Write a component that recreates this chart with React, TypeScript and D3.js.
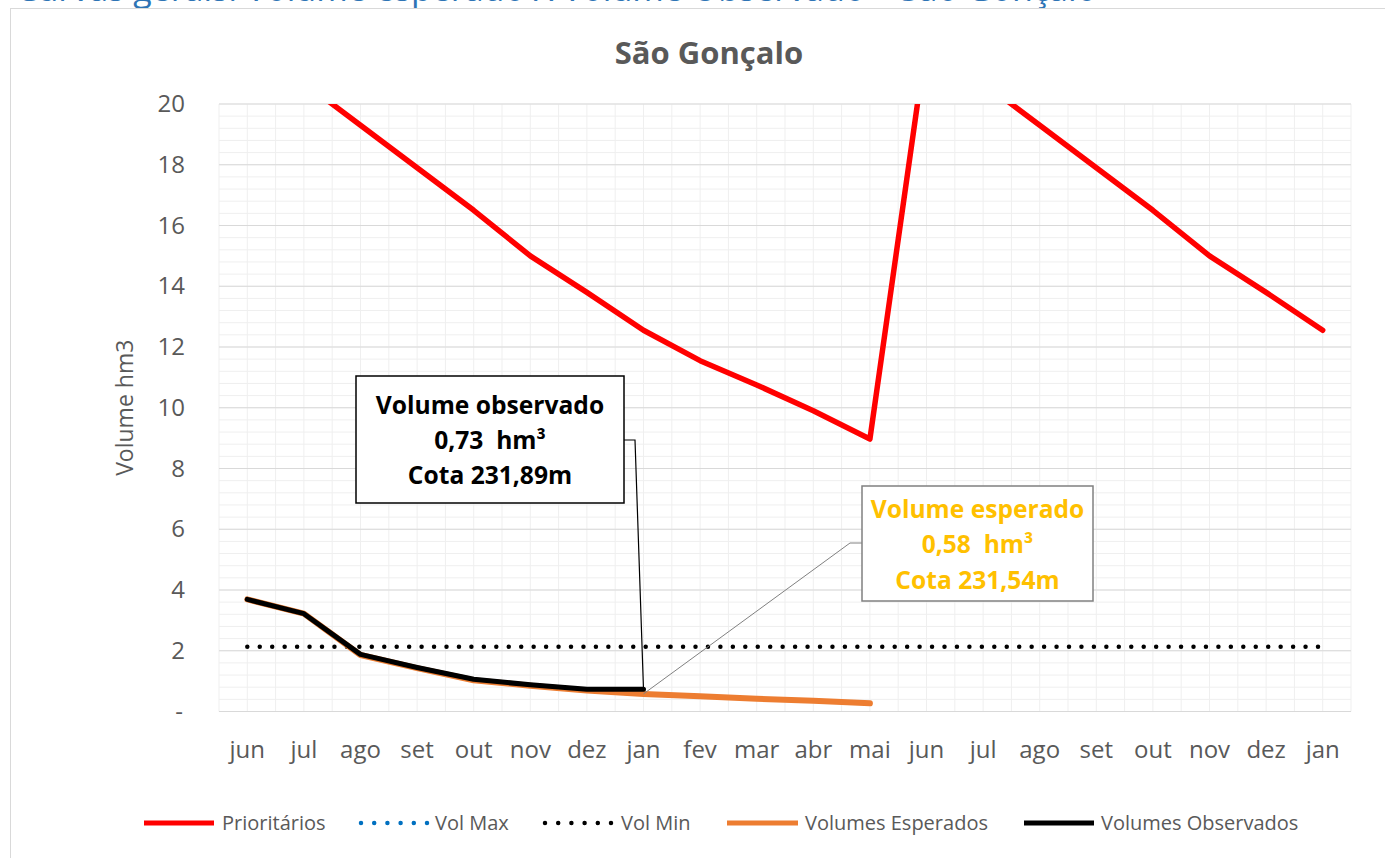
import React from "react";
import * as d3 from "d3";

const months = ["jun","jul","ago","set","out","nov","dez","jan","fev","mar","abr","mai","jun","jul","ago","set","out","nov","dez","jan"];
const prioritarios = [22.1, 20.7, 19.3, 17.9, 16.5, 15.0, 13.8, 12.55, 11.55, 10.75, 9.9, 8.97, 22.1, 20.7, 19.3, 17.9, 16.5, 15.0, 13.8, 12.55];
const volMax = months.map(() => 44.6);
const volMin = months.map(() => 2.13);
const esperados = [3.69, 3.22, 1.86, 1.43, 1.03, 0.85, 0.69, 0.58, 0.5, 0.42, 0.35, 0.27];
const observados = [3.69, 3.22, 1.88, 1.45, 1.06, 0.88, 0.73, 0.73];
const yTicks = [0, 2, 4, 6, 8, 10, 12, 14, 16, 18, 20];

const FONT = "'Open Sans', 'DejaVu Sans', sans-serif";
const GREY = "#595959";

export default function App() {
  const W = 1385, H = 858;
  const L = 219, R = 1351, T = 104, B = 711.5;
  const x = d3.scaleBand<number>().domain(months.map((_, i) => i)).range([L, R]);
  const cx = (i: number) => (x(i) as number) + x.bandwidth() / 2;
  const y = d3.scaleLinear().domain([0, 20]).range([B, T]);
  const line = d3.line<number>().x((_, i) => cx(i)).y((d) => y(d));

  const minorY = d3.range(0, 20.001, 0.4);
  const halfs = d3.range(0, months.length * 2 + 1).map((k) => L + (k * x.bandwidth()) / 2);

  const obsX = cx(observados.length - 1), obsY = y(observados[observados.length - 1]);
  const espX = cx(7), espY = y(esperados[7]);

  return (
    <svg width={W} height={H} style={{ position: "absolute", left: 0, top: 0, background: "#fff" }} fontFamily={FONT}>
      <defs>
        <clipPath id="plot"><rect x={L} y={T} width={R - L} height={B - T} /></clipPath>
      </defs>
      <text x={1097} y={0.5} textAnchor="end" fontSize={34} fill="#2E74B5">Curvas gerais: Volume esperado X Volume Observado – São Gonçalo</text>
      <rect x={10.5} y={8.5} width={1450} height={950} fill="#fff" stroke="#d9d9d9" strokeWidth={1} />
      <text x={709} y={64} textAnchor="middle" fontSize={31} fontWeight="bold" fill={GREY}>São Gonçalo</text>

      {/* grid */}
      {minorY.map((v, i) => (
        <line key={"my" + i} x1={L} x2={R} y1={y(v)} y2={y(v)} stroke="#efefef" strokeWidth={1} />
      ))}
      {halfs.map((hx, i) => (
        <line key={"vx" + i} x1={hx} x2={hx} y1={T} y2={B} stroke="#efefef" strokeWidth={1} />
      ))}
      {yTicks.map((v) => (
        <line key={"gy" + v} x1={L} x2={R} y1={y(v)} y2={y(v)} stroke="#d9d9d9" strokeWidth={1.2} />
      ))}

      {/* y labels */}
      {yTicks.map((v) => (
        <text key={"yl" + v} x={v === 0 ? 183 : 185} y={y(v) + 8} textAnchor="end" fontSize={24} fill={GREY}>{v === 0 ? "-" : v}</text>
      ))}
      <text transform={`translate(133,${(T + B) / 2}) rotate(-90)`} textAnchor="middle" fontSize={23} fill={GREY}>Volume hm3</text>

      {/* x labels */}
      {months.map((m, i) => (
        <text key={"xl" + i} x={cx(i)} y={758} textAnchor="middle" fontSize={24} fill={GREY}>{m}</text>
      ))}

      {/* series */}
      <g clipPath="url(#plot)">
        <path d={line(prioritarios) || ""} fill="none" stroke="#ff0000" strokeWidth={5.5} strokeLinejoin="round" strokeLinecap="round" />
        <path d={line(volMax) || ""} fill="none" stroke="#0070C0" strokeWidth={4.5} strokeDasharray="0 12.5" strokeLinecap="round" />
      </g>
      <path d={line(volMin) || ""} fill="none" stroke="#000" strokeWidth={4.5} strokeDasharray="0 12.45" strokeLinecap="round" />
      <path d={line(esperados) || ""} fill="none" stroke="#ED7D31" strokeWidth={6} strokeLinejoin="round" strokeLinecap="round" />
      <path d={line(observados) || ""} fill="none" stroke="#000" strokeWidth={5} strokeLinejoin="round" strokeLinecap="round" />

      {/* annotation observed */}
      <polyline points={`624,440 635,440 ${obsX},${obsY}`} fill="none" stroke="#000" strokeWidth={1.2} />
      <rect x={356} y={376} width={268} height={127} fill="#fff" stroke="#000" strokeWidth={1.5} />
      <g fontSize={24.6} fontWeight="bold" fill="#000" textAnchor="middle">
        <text x={490} y={414}>Volume observado</text>
        <text x={490} y={449} style={{ whiteSpace: "pre" }}>0,73  hm³</text>
        <text x={490} y={484}>Cota 231,89m</text>
      </g>

      {/* annotation expected */}
      <polyline points={`862,543 850,543 ${espX},${espY}`} fill="none" stroke="#808080" strokeWidth={1} />
      <rect x={862} y={486} width={231} height={115} fill="#fff" stroke="#808080" strokeWidth={1.5} />
      <g fontSize={24.6} fontWeight="bold" fill="#FFC000" textAnchor="middle">
        <text x={977.5} y={518}>Volume esperado</text>
        <text x={977.5} y={553} style={{ whiteSpace: "pre" }}>0,58  hm³</text>
        <text x={977.5} y={589}>Cota 231,54m</text>
      </g>

      {/* legend */}
      <g fontSize={20} fill={GREY}>
        <line x1={144} x2={214} y1={823} y2={823} stroke="#ff0000" strokeWidth={5} />
        <text x={222} y={830}>Prioritários</text>
        <line x1={361} x2={427} y1={823} y2={823} stroke="#0070C0" strokeWidth={4.5} strokeDasharray="0 13.2" strokeLinecap="round" />
        <text x={435} y={830}>Vol Max</text>
        <line x1={545} x2={611} y1={823} y2={823} stroke="#000" strokeWidth={4.5} strokeDasharray="0 13.2" strokeLinecap="round" />
        <text x={621} y={830}>Vol Min</text>
        <line x1={727} x2={798} y1={823} y2={823} stroke="#ED7D31" strokeWidth={5} />
        <text x={805} y={830}>Volumes Esperados</text>
        <line x1={1024} x2={1094} y1={823} y2={823} stroke="#000" strokeWidth={5} />
        <text x={1101} y={830}>Volumes Observados</text>
      </g>
    </svg>
  );
}
